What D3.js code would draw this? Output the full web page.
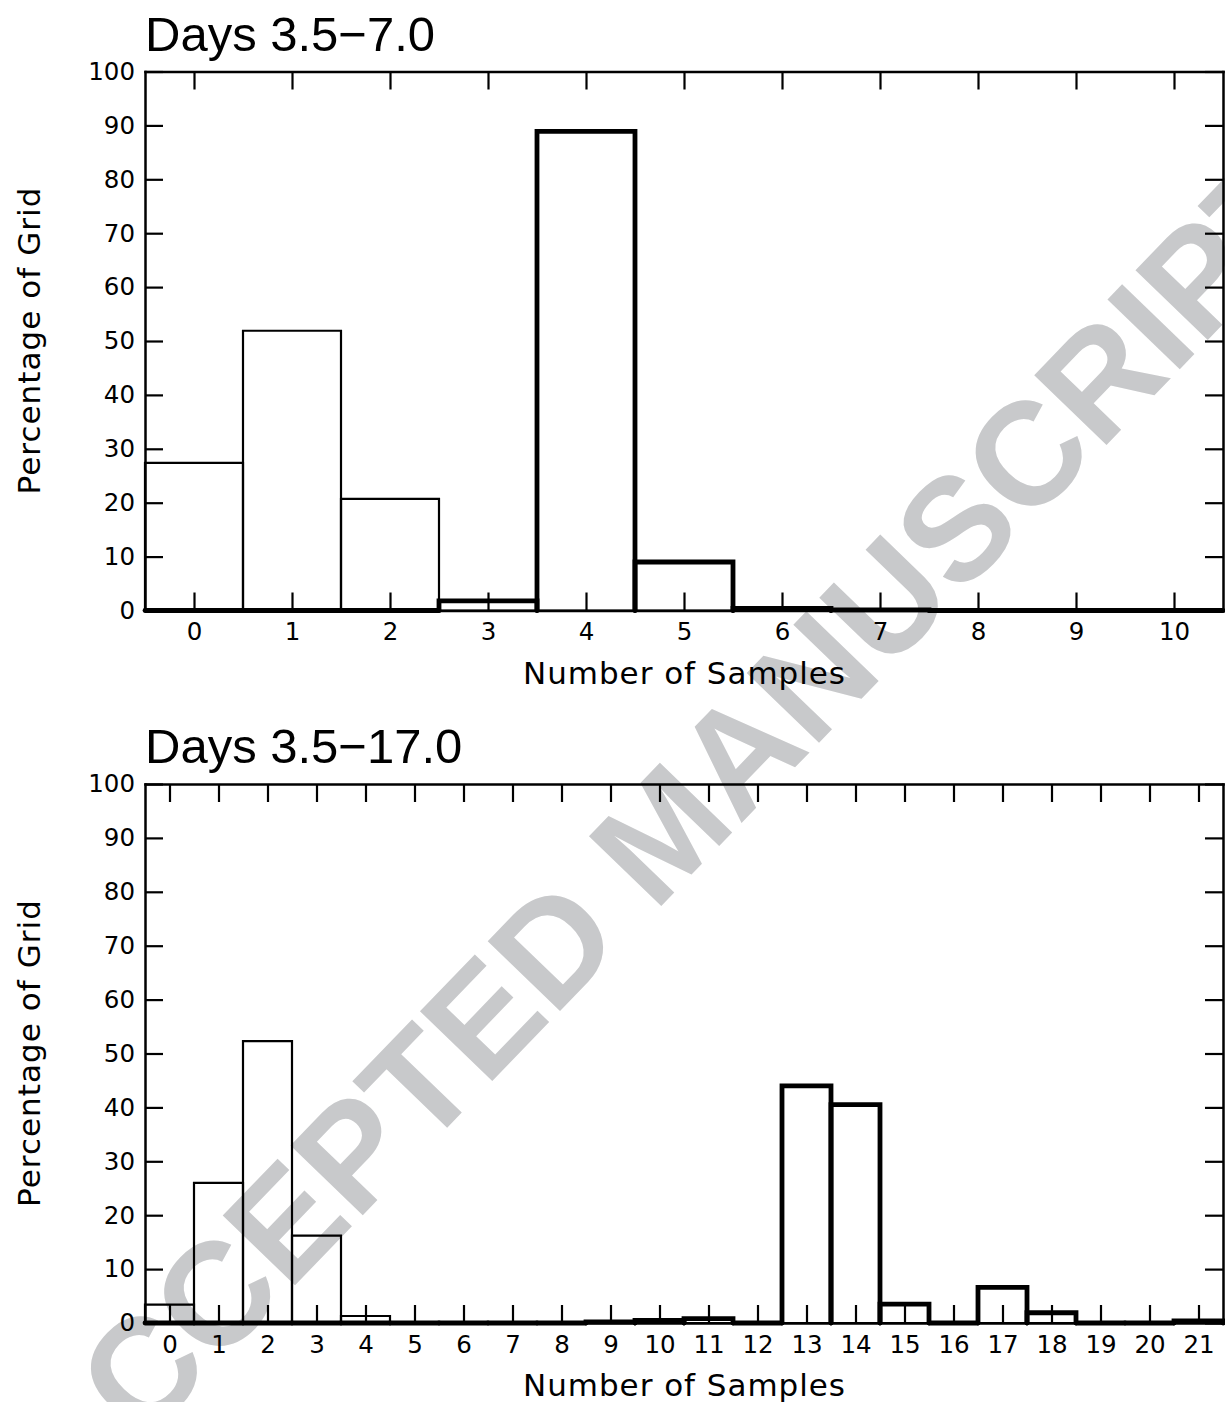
<!DOCTYPE html>
<html>
<head>
<meta charset="utf-8">
<script src="https://cdn.jsdelivr.net/npm/d3@7"></script>
<style>
  body { margin: 0; background: #fff; }
  svg { display: block; }
</style>
</head>
<body>
<div id="vis"></div>
<script>
var width = 1225;
var height = 1402;

// data (percent of grid per number of samples)
const topTitle = "Days 3.5\u22127.0";
const topBins = [0, 1, 2, 3, 4, 5, 6, 7, 8, 9, 10];
const topThin = [27.4, 51.9, 20.7, 0, 0, 0, 0, 0, 0, 0, 0];
const topThick = [0, 0, 0, 1.8, 88.9, 9.0, 0.4, 0.1, 0, 0, 0];

const bottomTitle = "Days 3.5\u221217.0";
const bottomBins = [0, 1, 2, 3, 4, 5, 6, 7, 8, 9, 10, 11, 12, 13, 14, 15, 16, 17, 18, 19, 20, 21];
const bottomThin = [3.4, 26.0, 52.3, 16.2, 1.3, 0, 0, 0, 0, 0, 0, 0, 0, 0, 0, 0, 0, 0, 0, 0, 0, 0];
const bottomThick = [0, 0, 0, 0, 0, 0, 0, 0, 0, 0.2, 0.5, 0.8, 0, 44.0, 40.5, 3.5, 0, 6.6, 1.9, 0, 0, 0.4];

const yTicks = [0, 10, 20, 30, 40, 50, 60, 70, 80, 90, 100];
const xLabel = "Number of Samples";
const yLabel = "Percentage of Grid";
const watermark = "ACCEPTED MANUSCRIPT";

var TICK_FONT = "'DejaVu Sans', sans-serif";
var TITLE_FONT = "'Liberation Sans', Arial, sans-serif";

var svg = d3
  .select("#vis")
  .append("svg")
  .attr("width", width)
  .attr("height", height);

svg.append("rect").attr("width", width).attr("height", height).attr("fill", "#fff");

// watermark sits under the plots (runs off both page edges like the original)
svg
  .append("text")
  .attr("transform", "translate(662,830) rotate(-46)")
  .attr("text-anchor", "middle")
  .attr("dy", "0.358em")
  .attr("font-family", TITLE_FONT)
  .attr("font-weight", "bold")
  .attr("font-size", 146)
  .attr("fill", "#c8c9cb")
  .text(watermark);

function drawPanel(top, title, bins, thin, thick, labelPad) {
  var left = 145, right = 1223, bottom = top + 539;
  var x = d3.scaleLinear().domain([bins[0] - 0.5, bins[bins.length - 1] + 0.5]).range([left, right]);
  var y = d3.scaleLinear().domain([0, 100]).range([bottom, top]);

  var g = svg.append("g");

  g.append("text")
    .attr("x", left)
    .attr("y", top - 21)
    .attr("font-family", TITLE_FONT)
    .attr("font-size", 49)
    .attr("fill", "#000")
    .text(title);

  function bars(values, cls, sw) {
    g.selectAll("." + cls)
      .data(values)
      .join("path")
      .attr("class", cls)
      .attr("d", function (v, i) {
        var b = bins[i];
        return "M" + x(b - 0.5) + "," + y(0) + "V" + y(v) + "H" + x(b + 0.5) + "V" + y(0);
      })
      .attr("fill", "none")
      .attr("stroke", "#000")
      .attr("stroke-width", sw)
      .attr("stroke-linecap", "round")
      .attr("stroke-linejoin", "miter");
  }
  bars(thin, "thin", 2.2);
  bars(thick, "thick", 4.8);

  // axes on all four sides, ticks pointing inward
  var ax = [
    { a: d3.axisBottom(x).tickValues(bins).tickPadding(labelPad), t: "translate(0," + bottom + ")" },
    { a: d3.axisTop(x).tickValues(bins).tickFormat(""), t: "translate(0," + top + ")" },
    { a: d3.axisLeft(y).tickValues(yTicks).tickPadding(10), t: "translate(" + left + ",0)" },
    { a: d3.axisRight(y).tickValues(yTicks).tickFormat(""), t: "translate(" + right + ",0)" }
  ];
  ax.forEach(function (d) {
    var axg = g.append("g")
      .attr("transform", d.t)
      .call(d.a.tickSizeInner(-18).tickSizeOuter(0));
    axg.attr("font-family", TICK_FONT).attr("font-size", 24.5);
    axg.select(".domain").attr("stroke-width", 2.5).attr("stroke-linecap", "square");
    axg.selectAll(".tick line").attr("stroke-width", 2.2);
    axg.selectAll(".tick text").attr("fill", "#000");
  });

  g.append("text")
    .attr("x", (left + right) / 2)
    .attr("y", bottom + 73)
    .attr("text-anchor", "middle")
    .attr("font-family", TICK_FONT)
    .attr("font-size", 31)
    .attr("textLength", 322)
    .attr("lengthAdjust", "spacing")
    .text(xLabel);

  g.append("text")
    .attr("transform", "translate(40," + (top + bottom) / 2 + ") rotate(-90)")
    .attr("text-anchor", "middle")
    .attr("font-family", TICK_FONT)
    .attr("font-size", 31)
    .attr("textLength", 307)
    .attr("lengthAdjust", "spacing")
    .text(yLabel);
}

drawPanel(71.5, topTitle, topBins, topThin, topThick, 12);
drawPanel(784, bottomTitle, bottomBins, bottomThin, bottomThick, 13);
</script>
</body>
</html>
